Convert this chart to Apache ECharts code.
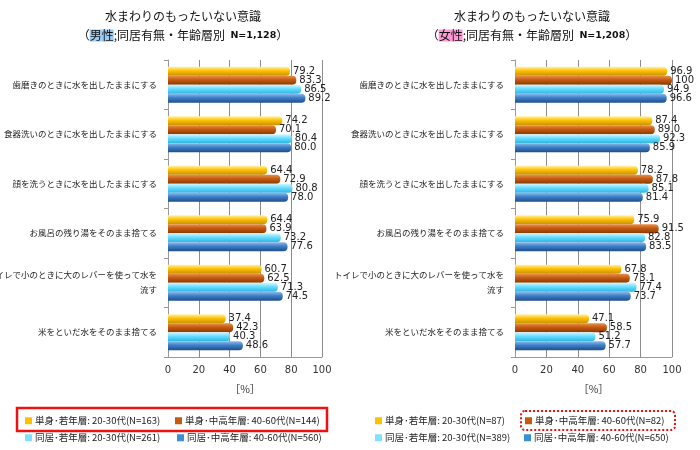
<!DOCTYPE html>
<html><head><meta charset="utf-8">
<script src="https://cdn.jsdelivr.net/npm/echarts@6/dist/echarts.min.js"></script>
<style>html,body{margin:0;padding:0;background:#fff}#c{width:700px;height:450px}</style>
</head><body><div id="c"></div>
<script>
const categories = [
  '歯磨きのときに水を出したままにする',
  '食器洗いのときに水を出したままにする',
  '顔を洗うときに水を出したままにする',
  'お風呂の残り湯をそのまま捨てる',
  'トイレで小のときに大のレバーを使って水を\n流す',
  '米をといだ水をそのまま捨てる'
];
const xTicks = [0, 20, 40, 60, 80, 100];
const maleNames = ['単身･若年層: 20-30代(N=163)','単身･中高年層: 40-60代(N=144)','同居･若年層: 20-30代(N=261)','同居･中高年層: 40-60代(N=560)'];
const femaleNames = ['単身･若年層: 20-30代(N=87)','単身･中高年層: 40-60代(N=82)','同居･若年層: 20-30代(N=389)','同居･中高年層: 40-60代(N=650)'];
const maleSingleYoung = [79.2, 74.2, 64.4, 64.4, 60.7, 37.4];
const maleSingleOld   = [83.3, 70.1, 72.9, 63.9, 62.5, 42.3];
const maleLiveYoung   = [86.5, 80.4, 80.8, 73.2, 71.3, 40.3];
const maleLiveOld     = [89.2, 80.0, 78.0, 77.6, 74.5, 48.6];
const femaleSingleYoung = [96.9, 87.4, 78.2, 75.9, 67.8, 47.1];
const femaleSingleOld   = [100, 89.0, 87.8, 91.5, 73.1, 58.5];
const femaleLiveYoung   = [94.9, 92.3, 85.1, 82.8, 77.4, 51.2];
const femaleLiveOld     = [96.6, 85.9, 81.4, 83.5, 73.7, 57.7];

const FONT = '"Noto Sans CJK JP","Noto Sans",sans-serif';
const palette = [
  {base:'#FFC000', light:'#FFF3A8', dark:'#C79200'},
  {base:'#C55A11', light:'#E8914A', dark:'#8A3A00'},
  {base:'#66DDFF', light:'#D6F7FF', dark:'#2DB4E2'},
  {base:'#3D7EC6', light:'#8FBBEA', dark:'#1F4E8A'}
];
function grad(p){
  return new echarts.graphic.LinearGradient(0,0,0,1,[
    {offset:0,color:p.light},{offset:0.45,color:p.base},{offset:1,color:p.dark}]);
}
function mkSeries(names, datas, idx){
  return datas.map((d,i)=>({
    name:names[i], type:'bar', xAxisIndex:idx, yAxisIndex:idx, data:d,
    barWidth:9, barGap:'0%',
    itemStyle:{color:grad(palette[i]), borderRadius:[0,4,4,0]},
    label:{show:true, position:'right', distance:3, fontSize:10, color:'#222', fontFamily:'"DejaVu Sans",sans-serif',
      formatter:(p)=> (p.value===100?'100':p.value.toFixed(1))},
    emphasis:{disabled:true}
  }));
}
function xAx(idx){
  return {gridIndex:idx, type:'value', min:0, max:100, interval:20,
    axisLine:{show:true, lineStyle:{color:'#999'}}, axisTick:{show:false},
    axisLabel:{fontSize:10, color:'#333', fontFamily:'"DejaVu Sans",sans-serif', margin:8},
    splitLine:{show:true, lineStyle:{color:'#8c8c8c'}},
    name:'［%］', nameLocation:'middle', nameGap:27,
    nameTextStyle:{fontSize:10.5, color:'#333', fontFamily:FONT}};
}
function yAx(idx){
  return {gridIndex:idx, type:'category', data:categories, inverse:true,
    axisLine:{show:true, lineStyle:{color:'#999'}},
    axisTick:{show:true, length:4, lineStyle:{color:'#999'}},
    axisLabel:{fontSize:8.5, color:'#222', fontFamily:FONT, margin:11, lineHeight:15, align:'right'}};
}
function legendAt(name, x, y){
  return {data:[name], left:x, top:y, itemWidth:7, itemHeight:7, itemGap:4, padding:0,
    selectedMode:false, icon:'rect',
    textStyle:{fontSize:9.5, color:'#222', fontFamily:FONT, padding:[0,0,0,-2]}};
}
const legendColors = ['#FFC000','#C55A11','#7FE0FF','#3A90D0'];
const chart = echarts.init(document.getElementById('c'));
const series = mkSeries(maleNames,[maleSingleYoung,maleSingleOld,maleLiveYoung,maleLiveOld],0)
  .concat(mkSeries(femaleNames,[femaleSingleYoung,femaleSingleOld,femaleLiveYoung,femaleLiveOld],1));
const legends = [
  legendAt(maleNames[0],25,416), legendAt(maleNames[1],175,416),
  legendAt(maleNames[2],25,433), legendAt(maleNames[3],177,433),
  legendAt(femaleNames[0],375,416), legendAt(femaleNames[1],525,416),
  legendAt(femaleNames[2],375,433), legendAt(femaleNames[3],524,433)
];
legends.forEach((l,i)=>{ l.data=[{name:l.data[0], itemStyle:{color:legendColors[i%4]}}]; });
chart.setOption({
  animation:false,
  title:[
    {text:'水まわりのもったいない意識\n（{m|男性};同居有無・年齢層別  {n|N=1,128}）', left:178, top:2, textAlign:'center',
     textStyle:{fontSize:12, fontWeight:'normal', color:'#111', fontFamily:FONT, lineHeight:19,
       rich:{m:{fontSize:12, backgroundColor:'#9CCBF3', fontFamily:FONT, color:'#111'}, n:{fontSize:9.5, fontWeight:'bold', fontFamily:'"DejaVu Sans",sans-serif', color:'#111'}}}},
    {text:'水まわりのもったいない意識\n（{m|女性};同居有無・年齢層別  {n|N=1,208}）', left:527, top:2, textAlign:'center',
     textStyle:{fontSize:12, fontWeight:'normal', color:'#111', fontFamily:FONT, lineHeight:19,
       rich:{m:{fontSize:12, backgroundColor:'#FF99D6', fontFamily:FONT, color:'#111'}, n:{fontSize:9.5, fontWeight:'bold', fontFamily:'"DejaVu Sans",sans-serif', color:'#111'}}}}
  ],
  legend:legends,
  grid:[
    {left:168, right:378, top:60, bottom:93, containLabel:false, outerBoundsMode:'none'},
    {left:515, right:28, top:60, bottom:93, containLabel:false, outerBoundsMode:'none'}
  ],
  xAxis:[xAx(0), xAx(1)],
  yAxis:[yAx(0), yAx(1)],
  series:series,
  graphic:[
    {type:'rect', shape:{x:17, y:408, width:310, height:23}, style:{fill:'none', stroke:'#ee1111', lineWidth:2.5}},
    {type:'rect', shape:{x:521, y:411, width:154, height:19, r:4}, style:{fill:'none', stroke:'#ee1111', lineWidth:2, lineDash:[2,2]}}
  ]
});
</script></body></html>
